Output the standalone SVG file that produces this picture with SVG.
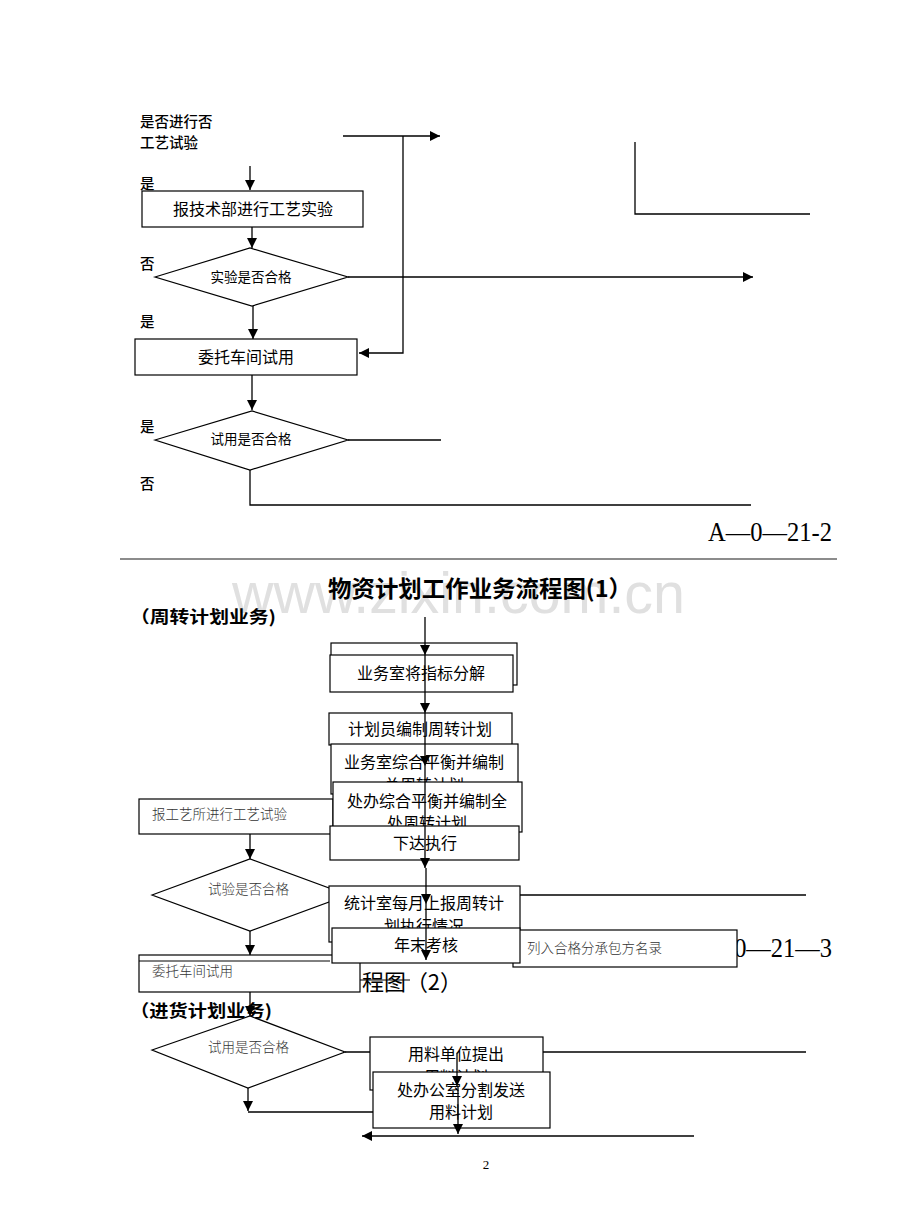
<svg xmlns="http://www.w3.org/2000/svg" width="920" height="1227" viewBox="0 0 920 1227">
<defs>
<marker id="ah" viewBox="0 0 10 10" refX="10" refY="5" markerWidth="10" markerHeight="10" markerUnits="userSpaceOnUse" orient="auto">
<path d="M0,0 L10,5 L0,10 z" fill="#000"/>
</marker>
<style>
.b{fill:#fff;stroke:#000;stroke-width:1.2}
.d{fill:#fff;stroke:#000;stroke-width:1.2}
.l{fill:none;stroke:#000;stroke-width:1.3}
.la{fill:none;stroke:#000;stroke-width:1.3;marker-end:url(#ah)}
.t{font-family:"Noto Sans CJK SC","Noto Sans",sans-serif;font-size:16px;fill:#000}
.tc{text-anchor:middle}
.s{font-family:"Noto Sans CJK SC","Noto Sans",sans-serif;font-size:13.5px;fill:#000}
.g{font-family:"Noto Sans CJK SC","Noto Sans",sans-serif;font-size:13.5px;fill:#333;font-weight:300}
.lab{font-family:"Noto Sans CJK SC","Noto Sans",sans-serif;font-size:14.5px;fill:#000;font-weight:500}
.code{font-family:"Liberation Serif",serif;font-size:28px;fill:#000;text-anchor:end}
.sec{font-family:"Noto Sans CJK SC",sans-serif;font-size:17px;font-weight:bold;fill:#000}
</style>
</defs>
<rect width="920" height="1227" fill="#fff"/>
<text x="232" y="613" textLength="453" lengthAdjust="spacingAndGlyphs" style="font-family:'Liberation Sans',sans-serif;font-size:58px;fill:#e0e0e0">www.zixin.com.cn</text>

<!-- labels -->
<text class="lab" x="140" y="127">是否进行否</text>
<text class="lab" x="140" y="148">工艺试验</text>
<text class="lab" x="140" y="189">是</text>
<text class="lab" x="140" y="269">否</text>
<text class="lab" x="140" y="327">是</text>
<text class="lab" x="140" y="432">是</text>
<text class="lab" x="140" y="489">否</text>
<text class="code" x="832" y="541" textLength="124" lengthAdjust="spacingAndGlyphs">A—0—21-2</text>
<line x1="120" y1="559" x2="837" y2="559" stroke="#666" stroke-width="1.5"/>
<text x="328" y="597" textLength="304" lengthAdjust="spacingAndGlyphs" style="font-family:'Noto Sans CJK SC',sans-serif;font-size:23px;font-weight:bold;fill:#000">物资计划工作业务流程图(1）</text>
<text class="sec" x="130" y="623" textLength="146" lengthAdjust="spacingAndGlyphs">（周转计划业务)</text>
<text class="code" x="832" y="957" textLength="140" lengthAdjust="spacingAndGlyphs">A—0—21—3</text>
<text x="462" y="990" text-anchor="end" textLength="100" lengthAdjust="spacingAndGlyphs" style="font-family:'Noto Sans CJK SC',sans-serif;font-size:22px;fill:#000">程图（2）</text>
<text class="sec" x="130" y="1017" textLength="142" lengthAdjust="spacingAndGlyphs">（进货计划业务)</text>
<text x="486" y="1169" text-anchor="middle" style="font-family:'Liberation Serif',serif;font-size:13px;fill:#000">2</text>

<!-- connectors behind nodes -->
<g id="connectors">
<line class="la" x1="343" y1="136" x2="440" y2="136"/>
<polyline class="la" points="403,136 403,353 359,353"/>
<line class="la" x1="250" y1="166" x2="250" y2="190"/>
<line class="la" x1="252" y1="227" x2="252" y2="248"/>
<line class="la" x1="348" y1="277" x2="753" y2="277"/>
<line class="la" x1="253" y1="306" x2="253" y2="339"/>
<line class="la" x1="252" y1="375" x2="252" y2="410"/>
<line class="l" x1="348" y1="440" x2="441" y2="440"/>
<polyline class="l" points="250,470 250,505 751,505"/>
<polyline class="l" points="635,142 635,214 810,214"/>
<line class="la" x1="250" y1="834" x2="250" y2="859"/>
<line class="l" x1="348" y1="895" x2="806" y2="895"/>
<line class="la" x1="250" y1="931" x2="250" y2="955"/>
<line class="la" x1="250" y1="992" x2="250" y2="1016"/>
<line class="l" x1="345" y1="1052" x2="806" y2="1052"/>
<line class="la" x1="248" y1="1088" x2="248" y2="1111"/>
<line class="l" x1="248" y1="1112" x2="374" y2="1112"/>
<line class="la" x1="694" y1="1136" x2="362" y2="1136"/>
</g>

<!-- nodes -->
<g id="n-report-tech"><rect class="b" x="142" y="191" width="221" height="36"/><text class="t tc" x="253" y="215">报技术部进行工艺实验</text></g>
<g id="n-test-ok"><polygon class="d" points="155,277 250,248 348,277 252,306"/><text class="s tc" x="251" y="282">实验是否合格</text></g>
<g id="n-workshop"><rect class="b" x="135" y="339" width="222" height="36"/><text class="t tc" x="246" y="363">委托车间试用</text></g>
<g id="n-trial-ok"><polygon class="d" points="155,440 252,411 348,440 250,470"/><text class="s tc" x="251" y="444">试用是否合格</text></g>

<g id="n-hidden"><rect class="b" x="331" y="643" width="186" height="42"/></g>
<g id="n-decompose"><rect class="b" x="330" y="655" width="183" height="37"/><text class="t tc" x="421" y="679">业务室将指标分解</text></g>
<g id="n-plan"><rect class="b" x="329" y="713" width="183" height="32"/><text class="t tc" x="420" y="735">计划员编制周转计划</text></g>
<g id="n-office-balance"><rect class="b" x="331" y="744" width="187" height="50"/><text class="t tc" x="424" y="768">业务室综合平衡并编制</text><text class="t tc" x="424" y="791">总周转计划</text></g>
<g id="n-report-craft"><rect class="b" x="139" y="799" width="194" height="35"/><text class="g" x="152" y="819">报工艺所进行工艺试验</text></g>
<g id="n-dept-balance"><rect class="b" x="333" y="782" width="189" height="50"/><text class="t tc" x="427" y="807">处办综合平衡并编制全</text><text class="t tc" x="427" y="829">处周转计划</text></g>
<g id="n-issue"><rect class="b" x="330" y="826" width="189" height="34"/><text class="t tc" x="425" y="849">下达执行</text></g>
<g id="n-test2-ok"><polygon class="d" points="152,895 250,859 348,895 250,931"/><text class="g" x="208" y="894">试验是否合格</text></g>
<g id="n-stats"><rect class="b" x="329" y="886" width="191" height="56"/><text class="t tc" x="424" y="909">统计室每月上报周转计</text><text class="t tc" x="424" y="932">划执行情况</text></g>
<g id="n-list"><rect class="b" x="513" y="930" width="224" height="37"/><text class="g" x="527" y="953">列入合格分承包方名录</text></g>
<g id="n-workshop2"><rect class="b" x="139" y="955" width="221" height="37"/><text class="g" x="152" y="976">委托车间试用</text></g>
<line x1="139" y1="961" x2="330" y2="961" stroke="#000" stroke-width="1"/>
<g id="n-yearend"><rect class="b" x="332" y="928" width="188" height="35"/><text class="t tc" x="426" y="951">年末考核</text></g>
<line x1="360" y1="980" x2="410" y2="980" stroke="#000" stroke-width="1.2"/>
<g id="n-trial2-ok"><polygon class="d" points="152,1050 250,1016 345,1052 248,1088"/><text class="g" x="208" y="1052">试用是否合格</text></g>
<g id="n-user"><rect class="b" x="370" y="1037" width="173" height="53"/><text class="t tc" x="456" y="1060">用料单位提出</text><text class="t tc" x="456" y="1083">用料计划</text></g>
<g id="n-dispatch"><rect class="b" x="373" y="1072" width="177" height="56"/><text class="t tc" x="461" y="1096">处办公室分割发送</text><text class="t tc" x="461" y="1118">用料计划</text></g>

<!-- connectors drawn over nodes -->
<g id="connectors-front">
<line class="la" x1="425" y1="617" x2="425" y2="655"/>
<line class="la" x1="425" y1="655" x2="425" y2="713"/>
<line class="la" x1="425" y1="713" x2="425" y2="766"/>
<line class="la" x1="425" y1="766" x2="425" y2="868"/>
<line class="la" x1="426" y1="868" x2="426" y2="904"/>
<line class="la" x1="426" y1="904" x2="426" y2="960"/>
<line class="la" x1="457" y1="1053" x2="457" y2="1086"/>
<line class="la" x1="458" y1="1086" x2="458" y2="1134"/>
</g>
</svg>
